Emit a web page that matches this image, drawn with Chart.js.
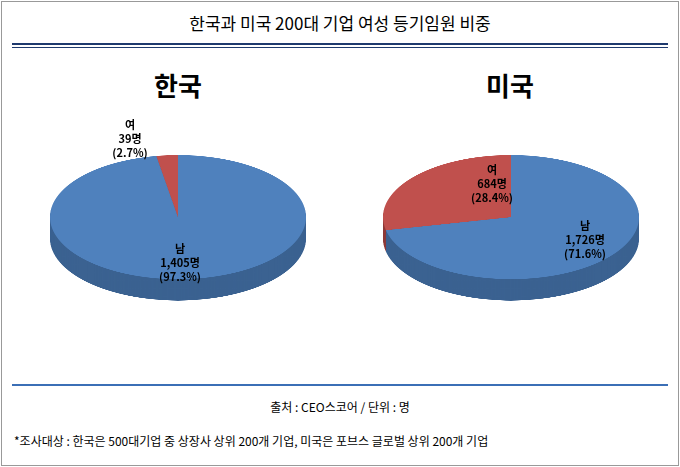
<!DOCTYPE html>
<html><head><meta charset="utf-8">
<script src="https://cdn.jsdelivr.net/npm/chart.js@4"></script>
<style>
body{margin:0;width:680px;height:467px;background:#fff;font-family:"Noto Sans CJK KR","Noto Sans",sans-serif;position:relative;overflow:hidden}
#frame{position:absolute;left:1px;top:1px;width:676px;height:463px;border:1px solid #999}
.t{position:absolute;white-space:nowrap;text-align:center;color:#000}
.pw{position:absolute;width:256px;height:300px;transform:scaleY(0.485);transform-origin:0 0}
.lbl{position:absolute;font-size:11px;font-weight:bold;line-height:14px;text-align:center;transform:translateX(-50%)}
</style></head><body>
<div id="frame"></div>
<div class="t" style="left:0;width:680px;top:10px;font-size:17px">한국과 미국 200대 기업 여성 등기임원 비중</div>
<div style="position:absolute;left:12px;width:656px;top:43px;height:2px;background:#1F3A6E"></div>
<div style="position:absolute;left:12px;width:656px;top:47px;height:1px;background:#1F3A6E"></div>
<div class="t" style="left:128px;width:100px;top:66px;font-size:26px;font-weight:bold">한국</div>
<div class="t" style="left:460px;width:100px;top:66px;font-size:26px;font-weight:bold">미국</div>
<div class="pw" style="left:50px;top:155px"><canvas id="c1" width="256" height="300"></canvas></div>
<div class="pw" style="left:383px;top:155px"><canvas id="c2" width="256" height="300"></canvas></div>
<div id="labels"></div>
<div style="position:absolute;left:12px;width:656px;top:384px;height:2px;background:#3B6FB6"></div>
<div class="t" style="left:0;width:680px;top:398px;font-size:12px">출처 : CEO스코어 / 단위 : 명</div>
<div class="t" style="left:14px;top:432px;font-size:12px;text-align:left">*조사대상 : 한국은 500대기업 중 상장사 상위 200개 기업, 미국은 포브스 글로벌 상위 200개 기업</div>
<script>
const categories=["남","여"];
const koreaValues=[1405,39];
const koreaPct=["97.3%","2.7%"];
const usValues=[1726,684];
const usPct=["71.6%","28.4%"];
const colors=["#4F81BD","#C0504D"];
const sideColors=["#3B6291","#8E3A38"];
const depth=44;
const side={id:'side',beforeDatasetsDraw(ch){
  const ctx=ch.ctx;const arcs=ch.getDatasetMeta(0).data;
  for(let d=depth;d>=1;d--){arcs.forEach((a,i)=>{
    ctx.beginPath();ctx.moveTo(a.x,a.y+d);ctx.arc(a.x,a.y+d,a.outerRadius,a.startAngle,a.endAngle);ctx.closePath();
    ctx.fillStyle=sideColors[i];ctx.fill();});}
}};
function mk(id,vals){
  return new Chart(document.getElementById(id),{type:'pie',
    data:{labels:categories,datasets:[{data:vals,backgroundColor:colors,borderWidth:0}]},
    options:{responsive:false,devicePixelRatio:2,animation:false,layout:{padding:{bottom:depth}},
      plugins:{legend:{display:false},tooltip:{enabled:false}}},plugins:[side]});
}
mk('c1',koreaValues);mk('c2',usValues);
const L=document.getElementById('labels');
function lab(x,y,i,vals,pct,white){
  const d=document.createElement('div');d.className='lbl';d.style.left=x+'px';d.style.top=y+'px';
  d.innerHTML=categories[i]+'<br>'+vals[i].toLocaleString('en-US')+'명<br>('+pct[i]+')';L.appendChild(d);
}
lab(130,117,1,koreaValues,koreaPct);
lab(180,241,0,koreaValues,koreaPct);
lab(492,162,1,usValues,usPct);
lab(585,218,0,usValues,usPct);
</script>
</body></html>
